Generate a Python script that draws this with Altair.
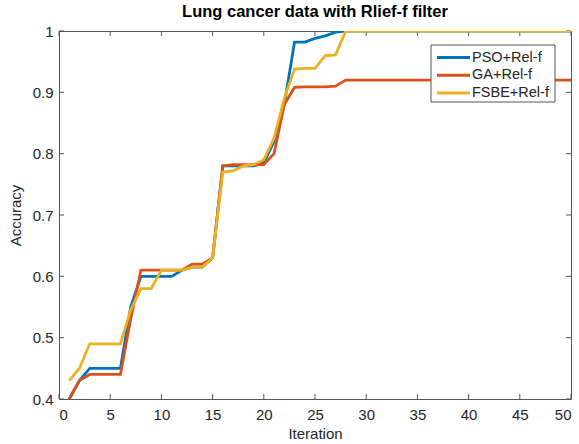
import altair as alt
import pandas as pd

iterations = list(range(1, 51))
pso = [0.40, 0.43, 0.45, 0.45, 0.45, 0.45, 0.55, 0.60, 0.60, 0.60,
       0.60, 0.61, 0.615, 0.615, 0.63, 0.78, 0.78, 0.78, 0.78, 0.785,
       0.82, 0.88, 0.982, 0.982, 0.988, 0.992, 0.998] + [1.0] * 23
ga = [0.40, 0.43, 0.44, 0.44, 0.44, 0.44, 0.53, 0.61, 0.61, 0.61,
      0.61, 0.61, 0.62, 0.62, 0.63, 0.78, 0.782, 0.782, 0.782, 0.782,
      0.80, 0.88, 0.908, 0.909, 0.909, 0.909, 0.91] + [0.92] * 23
fsbe = [0.43, 0.45, 0.49, 0.49, 0.49, 0.49, 0.545, 0.58, 0.58, 0.61,
        0.61, 0.61, 0.615, 0.615, 0.63, 0.77, 0.772, 0.78, 0.782, 0.79,
        0.825, 0.89, 0.938, 0.939, 0.939, 0.96, 0.961] + [1.0] * 23
series = ["PSO+Rel-f", "GA+Rel-f", "FSBE+Rel-f"]
colors = ["#0072BD", "#D95319", "#EDB120"]
x_ticks = [0, 5, 10, 15, 20, 25, 30, 35, 40, 45, 50]
y_ticks = [0.4, 0.5, 0.6, 0.7, 0.8, 0.9, 1.0]

rows = []
for k, (name, vals) in enumerate(zip(series, [pso, ga, fsbe])):
    for i, v in zip(iterations, vals):
        rows.append({"Iteration": i, "Accuracy": v, "Series": name, "order": k})
df = pd.DataFrame(rows)

W, H = 512, 368
FONT = "Liberation Sans"
AX = "#262626"
GREY = "#555555"

xscale = alt.Scale(domain=[0, 50], nice=False)
yscale = alt.Scale(domain=[0.4, 1.0], nice=False, zero=False)
cscale = alt.Scale(domain=series, range=colors)

lines = alt.Chart(df).mark_line(strokeWidth=2.8, clip=True).encode(
    x=alt.X("Iteration:Q", scale=xscale,
            axis=alt.Axis(values=x_ticks, title="Iteration", ticks=False, labelPadding=8,
                          titlePadding=4, grid=False, domain=False, format="d",
                          labelFont=FONT, labelFontSize=15, labelColor=AX,
                          titleFont=FONT, titleFontSize=15, titleColor=AX,
                          titleFontWeight="normal")),
    y=alt.Y("Accuracy:Q", scale=yscale,
            axis=alt.Axis(values=y_ticks, title="Accuracy", ticks=False, labelPadding=6,
                          titlePadding=9, grid=False, domain=False,
                          labelFont=FONT, labelFontSize=15, labelColor=AX,
                          titleFont=FONT, titleFontSize=15, titleColor=AX,
                          titleFontWeight="normal",
                          labelExpr="datum.value == 1 ? '1' : format(datum.value, '.1f')")),
    color=alt.Color("Series:N", scale=cscale, legend=None),
    order=alt.Order("order:Q"),
    detail="Series:N",
)

xt = pd.DataFrame({"t": x_ticks})
yt = pd.DataFrame({"t": y_ticks})
xb = alt.Chart(xt).mark_rule(color=GREY, strokeWidth=1).encode(
    x=alt.X("t:Q", scale=xscale), y=alt.value(H), y2=alt.value(H - 5))
xtop = alt.Chart(xt).mark_rule(color=GREY, strokeWidth=1).encode(
    x=alt.X("t:Q", scale=xscale), y=alt.value(0), y2=alt.value(5))
yl = alt.Chart(yt).mark_rule(color=GREY, strokeWidth=1).encode(
    y=alt.Y("t:Q", scale=yscale), x=alt.value(0), x2=alt.value(5))
yr = alt.Chart(yt).mark_rule(color=GREY, strokeWidth=1).encode(
    y=alt.Y("t:Q", scale=yscale), x=alt.value(W), x2=alt.value(W - 5))

# custom legend box
leg = pd.DataFrame({"Series": series, "row": [0, 1, 2]})
LX0, LX1, LY0, LY1 = 372, 496, 14, 71
box = alt.Chart(pd.DataFrame({"a": [0]})).mark_rect(
    fill="white", stroke=GREY, strokeWidth=1).encode(
    x=alt.value(LX0), x2=alt.value(LX1), y=alt.value(LY0), y2=alt.value(LY1))
base_leg = alt.Chart(leg).transform_calculate(py="26.5 + datum.row * 17.8")
leg_lines = base_leg.mark_rule(strokeWidth=3).encode(
    x=alt.value(378), x2=alt.value(411),
    y=alt.Y("py:Q", scale=None),
    color=alt.Color("Series:N", scale=cscale, legend=None))
leg_text = base_leg.mark_text(align="left", baseline="middle", font=FONT,
                              fontSize=14.5, color=AX).encode(
    x=alt.value(413), y=alt.Y("py:Q", scale=None), text="Series:N")

chart = alt.layer(xb, xtop, yl, yr, lines, box, leg_lines, leg_text).properties(
    width=W, height=H,
    title=alt.TitleParams("Lung cancer data with Rlief-f filter", font=FONT, fontSize=16.5,
                          fontWeight="bold", color="black", offset=4, anchor="middle"),
    autosize=alt.AutoSizeParams(type="none"),
    padding={"left": 59, "top": 31, "right": 8, "bottom": 45},
    background="white",
).configure_view(stroke=GREY, strokeWidth=1)

chart.save("out.html", embed_options={"renderer": "svg", "actions": False})
